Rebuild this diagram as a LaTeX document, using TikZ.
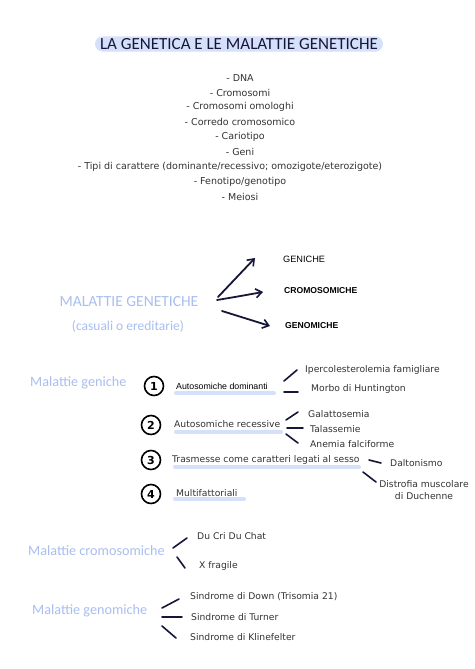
\documentclass[tikz,border=0pt]{standalone}
\usepackage{fontspec}
\setmainfont{DejaVu Sans}
\newfontfamily\hand{Carlito}
\newfontfamily\arial{Liberation Sans}
\usetikzlibrary{arrows.meta,calc}
\definecolor{ink}{HTML}{16163A}
\definecolor{lblue}{HTML}{A9BFF0}
\definecolor{hl}{HTML}{D5E1FA}
\definecolor{txt}{HTML}{333333}
\tikzset{
  listitem/.style={font=\fontsize{9.5}{10}\selectfont, text=txt, inner sep=0pt},
  body/.style={font=\fontsize{9.2}{10}\selectfont, text=txt, anchor=west, inner sep=0pt},
  heading/.style={font=\hand\fontsize{14.2}{15}\selectfont, text=lblue, anchor=west, inner sep=0pt},
  cat/.style={font=\arial\fontsize{9.2}{10}\selectfont, text=black, anchor=west, inner sep=0pt},
  numcirc/.style={circle, draw=black, line width=1.6pt, minimum size=19pt, inner sep=0pt, font=\bfseries\fontsize{11}{11}\selectfont},
  branch/.style={draw=ink, line width=1.6pt, line cap=round},
  bigarrow/.style={draw=ink, line width=1.8pt, line cap=round, -{Straight Barb[length=6pt,width=9pt,line width=1.6pt]}},
  ubar/.style={draw=hl, line width=4pt, line cap=round}
}
\begin{document}
\begin{tikzpicture}[x=1pt,y=-1pt]
\useasboundingbox (0,0) rectangle (474,669);
\fill[white] (0,0) rectangle (474,669);

% title
\node[fill=hl, rounded corners=7.5pt, inner xsep=5pt, inner ysep=2pt, text=ink,
      font=\hand\fontsize{17}{18}\selectfont] (title) at (239,44) {LA GENETICA E LE MALATTIE GENETICHE};

% list
\node[listitem] (l1) at (240,78) {- DNA};
\node[listitem] (l2) at (240,93) {- Cromosomi};
\node[listitem] (l3) at (240,107) {- Cromosomi omologhi};
\node[listitem] (l4) at (240,122) {- Corredo cromosomico};
\node[listitem] (l5) at (240,137) {- Cariotipo};
\node[listitem] (l6) at (240,152) {- Geni};
\node[listitem] (l7) at (230,167) {- Tipi di carattere (dominante/recessivo; omozigote/eterozigote)};
\node[listitem] (l8) at (240,182) {- Fenotipo/genotipo};
\node[listitem] (l9) at (240,197) {- Meiosi};

% malattie genetiche
\node[heading, anchor=center, font=\hand\fontsize{15.5}{16}\selectfont] (mg) at (129,302) {MALATTIE GENETICHE};
\node[heading, anchor=center, font=\hand\fontsize{13.5}{14}\selectfont] (mgsub) at (128,326) {(casuali o ereditarie)};

\node[cat] (geniche) at (283,259) {GENICHE};
\node[cat, font=\arial\bfseries\fontsize{8.6}{10}\selectfont] (cromo) at (284,291) {CROMOSOMICHE};
\node[cat, font=\arial\bfseries\fontsize{8.6}{10}\selectfont] (genom) at (285,326) {GENOMICHE};

\coordinate (a1s) at (218,297); \coordinate (a1e) at (255,258);
\coordinate (a2s) at (217,300); \coordinate (a2e) at (263,292);
\coordinate (a3s) at (222,311); \coordinate (a3e) at (270,326);
\draw[bigarrow] (a1s) -- (a1e);
\draw[bigarrow] (a2s) .. controls (235,297) .. (a2e);
\draw[bigarrow] (a3s) -- (a3e);

% malattie geniche
\node[heading] (mgen) at (30,383) {Malattie geniche};

\node[numcirc] (c1) at (154,386) {1};
\draw[ubar] (176,393) -- (274,393);
\node[cat, font=\arial\fontsize{8.8}{10}\selectfont] (ad) at (176,386) {Autosomiche dominanti};
\node[body] (iper) at (305,370) {Ipercolesterolemia famigliare};
\node[body] (morbo) at (311,389) {Morbo di Huntington};
\coordinate (b1a) at (284,381); \coordinate (b1b) at (297,370);
\coordinate (b2a) at (284,392); \coordinate (b2b) at (298,392);
\draw[branch] (b1a) -- (b1b);
\draw[branch] (b2a) -- (b2b);

\node[numcirc] (c2) at (151,425) {2};
\draw[ubar] (176,432) -- (281,432);
\node[body] (ar) at (174,424) {Autosomiche recessive};
\node[body] (gal) at (308,414) {Galattosemia};
\node[body] (tal) at (310,429) {Talassemie};
\node[body] (anem) at (310,444) {Anemia falciforme};
\coordinate (r1a) at (286,420); \coordinate (r1b) at (298,412);
\coordinate (r2a) at (287,428); \coordinate (r2b) at (303,428);
\coordinate (r3a) at (286,434); \coordinate (r3b) at (298,443);
\draw[branch] (r1a) -- (r1b);
\draw[branch] (r2a) -- (r2b);
\draw[branch] (r3a) -- (r3b);

\node[numcirc] (c3) at (151,460) {3};
\draw[ubar] (175,467) -- (359,467);
\node[body] (tr) at (172,460) {Trasmesse come caratteri legati al sesso};
\node[body] (dal) at (390,463) {Daltonismo};
\node[body, anchor=center, align=center] (dis) at (424,490) {Distrofia muscolare\\[2pt]di Duchenne};
\coordinate (s1a) at (369,460); \coordinate (s1b) at (381,463);
\coordinate (s2a) at (363,472); \coordinate (s2b) at (376,482);
\draw[branch] (s1a) -- (s1b);
\draw[branch] (s2a) -- (s2b);

\node[numcirc] (c4) at (151,494) {4};
\draw[ubar] (175,499) -- (244,499);
\node[body] (mf) at (176,493) {Multifattoriali};

% malattie cromosomiche
\node[heading] (mcr) at (28,551) {Malattie cromosomiche};
\node[body] (dcdc) at (197,536) {Du Cri Du Chat};
\node[body] (xf) at (199,566) {X fragile};
\coordinate (m1a) at (173,548); \coordinate (m1b) at (187,538);
\coordinate (m2a) at (177,557); \coordinate (m2b) at (185,568);
\draw[branch] (m1a) -- (m1b);
\draw[branch] (m2a) -- (m2b);

% malattie genomiche
\node[heading] (mgm) at (32,611) {Malattie genomiche};
\node[body] (down) at (190,597) {Sindrome di Down (Trisomia 21)};
\node[body] (turn) at (191,617) {Sindrome di Turner};
\node[body] (klin) at (190,637) {Sindrome di Klinefelter};
\coordinate (g1a) at (162,608); \coordinate (g1b) at (179,599);
\coordinate (g2a) at (162,617); \coordinate (g2b) at (182,617);
\coordinate (g3a) at (162,626); \coordinate (g3b) at (176,638);
\draw[branch] (g1a) -- (g1b);
\draw[branch] (g2a) -- (g2b);
\draw[branch] (g3a) -- (g3b);
\end{tikzpicture}
\end{document}
